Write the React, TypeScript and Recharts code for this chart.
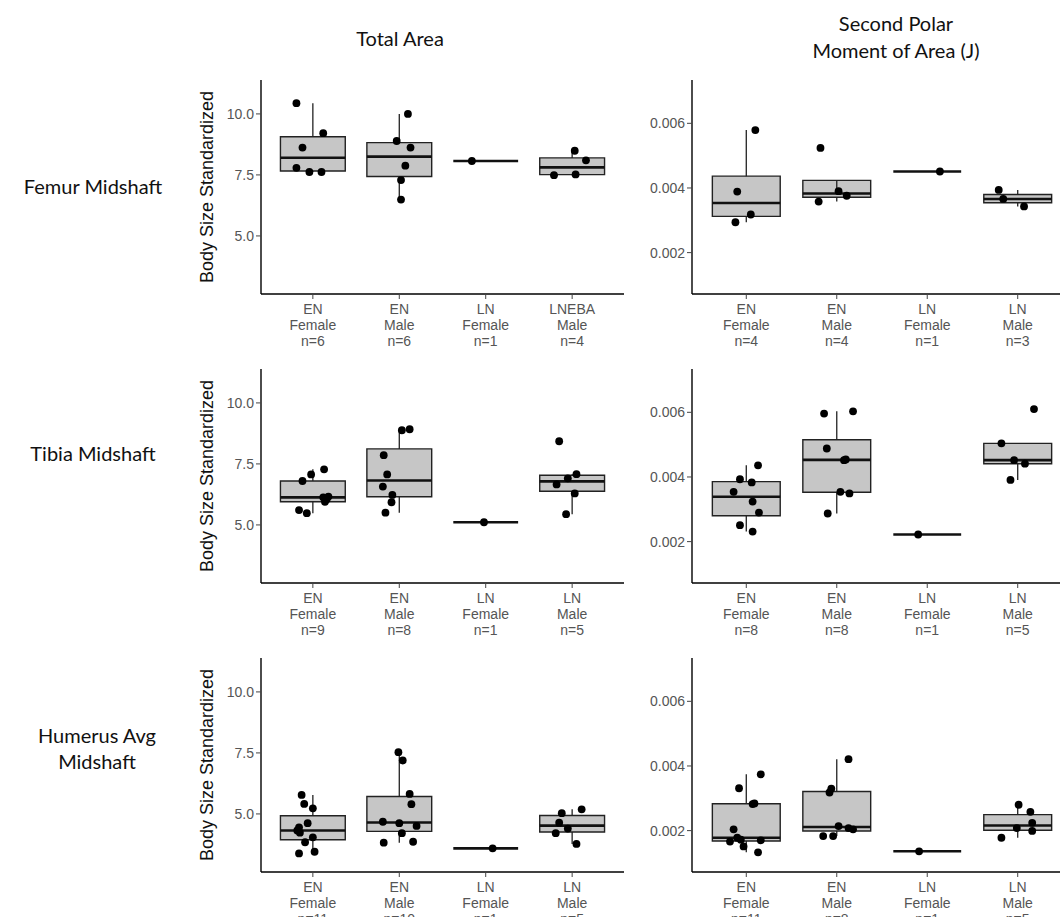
import { ComposedChart, Scatter, XAxis, YAxis, ReferenceArea, ReferenceLine } from 'recharts';

// Body-size standardized cross-sectional properties, one box per group.
// Values are listed per group: EN Female, EN Male, LN Female, LN (EBA) Male.
// Jitter arrays hold the horizontal spread of each point in category units.

const femurArea = [
  [10.44, 9.21, 8.62, 7.79, 7.62, 7.62],
  [10.0, 8.89, 8.62, 7.88, 7.29, 6.49],
  [8.07],
  [8.49, 8.1, 7.49, 7.52],
];
const femurAreaJitter = [
  [-0.19, 0.12, -0.12, -0.19, -0.04, 0.1],
  [0.1, -0.03, 0.13, 0.07, 0.02, 0.02],
  [-0.16],
  [0.03, 0.16, -0.21, 0.04],
];

const femurJ = [
  [0.00579, 0.00389, 0.00318, 0.00294],
  [0.00524, 0.0039, 0.00376, 0.00358],
  [0.00451],
  [0.00394, 0.00366, 0.00343],
];
const femurJJitter = [
  [0.1, -0.1, 0.05, -0.12],
  [-0.18, 0.02, 0.11, -0.2],
  [0.14],
  [-0.21, -0.16, 0.07],
];

const tibiaArea = [
  [6.8, 7.07, 7.28, 5.61, 5.48, 6.13, 6.05, 6.16, 5.95],
  [7.86, 7.07, 6.57, 6.23, 5.93, 5.5, 8.88, 8.92],
  [5.11],
  [8.43, 6.66, 6.91, 7.08, 6.29, 5.44],
];
const tibiaAreaJitter = [
  [-0.12, -0.02, 0.13, -0.16, -0.07, 0.12, 0.16, 0.18, 0.14],
  [-0.18, -0.14, -0.19, -0.08, -0.09, -0.16, 0.03, 0.12],
  [-0.02],
  [-0.15, -0.18, -0.05, 0.05, 0.03, -0.07],
];

const tibiaJ = [
  [0.00393, 0.00383, 0.00354, 0.00324, 0.00436, 0.0029, 0.00251, 0.00231],
  [0.00596, 0.00603, 0.00488, 0.00454, 0.00452, 0.00354, 0.00349, 0.00287],
  [0.00222],
  [0.0061, 0.00504, 0.00452, 0.00441, 0.00391],
];
const tibiaJJitter = [
  [-0.07, 0.06, -0.14, 0.07, 0.13, 0.14, -0.07, 0.07],
  [-0.14, 0.18, -0.11, 0.1, 0.08, 0.04, 0.14, -0.1],
  [-0.1],
  [0.18, -0.18, -0.04, 0.08, -0.08],
];

const humerusArea = [
  [5.78, 5.41, 5.23, 4.62, 4.45, 4.32, 4.23, 3.84, 4.04, 3.45, 3.38],
  [7.53, 7.19, 5.82, 5.4, 4.68, 4.62, 4.51, 4.21, 3.82, 3.86],
  [3.59],
  [5.03, 5.19, 4.64, 4.4, 4.21, 3.77],
];
const humerusAreaJitter = [
  [-0.13, -0.1, 0, -0.06, -0.16, -0.18, -0.15, -0.09, 0, 0.02, -0.16],
  [-0.01, 0.04, 0.12, 0.14, -0.19, 0, 0.2, 0.03, -0.18, 0.16],
  [0.08],
  [-0.12, 0.11, -0.15, -0.05, -0.19, 0.05],
];

const humerusJ = [
  [0.00374, 0.00331, 0.00284, 0.00282, 0.00204, 0.00178, 0.00172, 0.0017, 0.00166, 0.00151, 0.00133],
  [0.00421, 0.0033, 0.00318, 0.00214, 0.00204, 0.00208, 0.00183, 0.00183],
  [0.00136],
  [0.0028, 0.00258, 0.00224, 0.00208, 0.00199, 0.00178],
];
const humerusJJitter = [
  [0.16, -0.08, 0.09, 0.07, -0.14, -0.1, -0.06, 0.16, -0.18, -0.03, 0.13],
  [0.13, -0.06, -0.08, 0.02, 0.18, 0.13, -0.15, -0.04],
  [-0.09],
  [0.01, 0.14, 0.16, -0.01, 0.16, -0.18],
];

// x-axis labels (period / sex / sample size)
const femurAreaLabels = [['EN', 'Female', 'n=6'], ['EN', 'Male', 'n=6'], ['LN', 'Female', 'n=1'], ['LNEBA', 'Male', 'n=4']];
const femurJLabels = [['EN', 'Female', 'n=4'], ['EN', 'Male', 'n=4'], ['LN', 'Female', 'n=1'], ['LN', 'Male', 'n=3']];
const tibiaAreaLabels = [['EN', 'Female', 'n=9'], ['EN', 'Male', 'n=8'], ['LN', 'Female', 'n=1'], ['LN', 'Male', 'n=5']];
const tibiaJLabels = [['EN', 'Female', 'n=8'], ['EN', 'Male', 'n=8'], ['LN', 'Female', 'n=1'], ['LN', 'Male', 'n=5']];
const humerusAreaLabels = [['EN', 'Female', 'n=11'], ['EN', 'Male', 'n=10'], ['LN', 'Female', 'n=1'], ['LN', 'Male', 'n=5']];
const humerusJLabels = [['EN', 'Female', 'n=11'], ['EN', 'Male', 'n=8'], ['LN', 'Female', 'n=1'], ['LN', 'Male', 'n=5']];

const areaTicks = [5, 7.5, 10];
const jTicks = [0.002, 0.004, 0.006];
const areaDomain = [2.62, 11.39];
const jDomain = [0.00072, 0.00734];

const columnTitles = ['Total Area', 'Second Polar', 'Moment of Area (J)'];
const rowTitles = ['Femur Midshaft', 'Tibia Midshaft', 'Humerus Avg', 'Midshaft'];

const TICK_FONT = '"Liberation Sans", Arial, sans-serif';
const TITLE_FONT = 'Lato, "Open Sans", sans-serif';
const BOX_HALF = 0.375;

// type-7 quantile, same as R's default
const quantile = (sorted: number[], p: number) => {
  const h = (sorted.length - 1) * p;
  const lo = Math.floor(h);
  const next = sorted[Math.min(lo + 1, sorted.length - 1)];
  return sorted[lo] + (h - lo) * (next - sorted[lo]);
};

const boxStats = (values: number[]) => {
  const s = [...values].sort((a, b) => a - b);
  const q1 = quantile(s, 0.25);
  const med = quantile(s, 0.5);
  const q3 = quantile(s, 0.75);
  const iqr = q3 - q1;
  const inside = s.filter((v) => v >= q1 - 1.5 * iqr && v <= q3 + 1.5 * iqr);
  return { q1, med, q3, lo: inside[0], hi: inside[inside.length - 1] };
};

const CategoryTick = (props: any) => {
  const { x, y, payload, labels } = props;
  const lines: string[] = labels[Math.round(payload.value) - 1] || [];
  return (
    <text x={x} y={y + 13} textAnchor="middle" fill="#555" fontSize={14} fontFamily={TICK_FONT}>
      {lines.map((line, i) => (
        <tspan key={i} x={x} dy={i === 0 ? 0 : 16}>
          {line}
        </tspan>
      ))}
    </text>
  );
};

const Dot = (props: any) => <circle cx={props.cx} cy={props.cy} r={3.9} fill="#000" />;

interface PanelProps {
  left: number;
  top: number;
  width: number;
  axisWidth: number;
  values: number[][];
  jitter: number[][];
  labels: string[][];
  domain: number[];
  ticks: number[];
  digits: number;
  yTitle?: string;
}

const Panel = ({ left, top, width, axisWidth, values, jitter, labels, domain, ticks, digits, yTitle }: PanelProps) => {
  const stats = values.map(boxStats);
  const points = values.flatMap((group, g) =>
    group.map((v, k) => ({ x: g + 1 + jitter[g][k], y: v })),
  );

  return (
    <div style={{ position: 'absolute', left, top }}>
      <ComposedChart width={width} height={284} margin={{ top: 10, right: 6, bottom: 0, left: 0 }}>
        <XAxis
          type="number"
          dataKey="x"
          domain={[0.4, 4.6]}
          ticks={[1, 2, 3, 4]}
          allowDataOverflow
          interval={0}
          height={60}
          tickSize={5}
          axisLine={{ stroke: '#000', strokeWidth: 1.4 }}
          tickLine={{ stroke: '#444' }}
          tick={(p: any) => <CategoryTick {...p} labels={labels} />}
        />
        <YAxis
          type="number"
          dataKey="y"
          domain={domain}
          ticks={ticks}
          allowDataOverflow
          width={axisWidth}
          tickSize={5}
          axisLine={{ stroke: '#000', strokeWidth: 1.4 }}
          tickLine={{ stroke: '#444' }}
          tick={{ fill: '#555', fontSize: 14, fontFamily: TICK_FONT }}
          tickFormatter={(v: number) => v.toFixed(digits)}
          label={
            yTitle
              ? {
                  content: (lp: any) => {
                    const vb = lp.viewBox || { x: 0, y: 10, width: axisWidth, height: 214 };
                    const cx = vb.x + 17;
                    const cy = vb.y + vb.height / 2;
                    return (
                      <text
                        x={cx}
                        y={cy}
                        transform={`rotate(-90 ${cx} ${cy})`}
                        textAnchor="middle"
                        dominantBaseline="central"
                        fontSize={18}
                        fontFamily={TICK_FONT}
                        fill="#111"
                      >
                        {yTitle}
                      </text>
                    );
                  },
                }
              : undefined
          }
        />
        {stats.map((s, g) => (
          <ReferenceLine
            key={`wl${g}`}
            segment={[{ x: g + 1, y: s.lo }, { x: g + 1, y: s.q1 }]}
            stroke="#222"
            strokeWidth={1.3}
          />
        ))}
        {stats.map((s, g) => (
          <ReferenceLine
            key={`wh${g}`}
            segment={[{ x: g + 1, y: s.q3 }, { x: g + 1, y: s.hi }]}
            stroke="#222"
            strokeWidth={1.3}
          />
        ))}
        {stats.map((s, g) => (
          <ReferenceArea
            key={`b${g}`}
            x1={g + 1 - BOX_HALF}
            x2={g + 1 + BOX_HALF}
            y1={s.q1}
            y2={s.q3}
            fill="#c6c6c6"
            fillOpacity={1}
            stroke="#222"
            strokeWidth={1.4}
          />
        ))}
        {stats.map((s, g) => (
          <ReferenceLine
            key={`m${g}`}
            segment={[{ x: g + 1 - BOX_HALF, y: s.med }, { x: g + 1 + BOX_HALF, y: s.med }]}
            stroke="#111"
            strokeWidth={2.6}
          />
        ))}
        <Scatter data={points} dataKey="y" isAnimationActive={false} shape={Dot} />
      </ComposedChart>
    </div>
  );
};

const rows = [
  { area: femurArea, areaJit: femurAreaJitter, areaLab: femurAreaLabels, j: femurJ, jJit: femurJJitter, jLab: femurJLabels },
  { area: tibiaArea, areaJit: tibiaAreaJitter, areaLab: tibiaAreaLabels, j: tibiaJ, jJit: tibiaJJitter, jLab: tibiaJLabels },
  { area: humerusArea, areaJit: humerusAreaJitter, areaLab: humerusAreaLabels, j: humerusJ, jJit: humerusJJitter, jLab: humerusJLabels },
];

const titleStyle = (x: number, y: number): React.CSSProperties => ({
  position: 'absolute',
  left: x - 150,
  top: y - 14,
  width: 300,
  lineHeight: '28px',
  textAlign: 'center',
  fontFamily: TITLE_FONT,
  fontSize: 20,
  color: '#111',
  whiteSpace: 'nowrap',
});

export default function App() {
  return (
    <div
      style={{
        position: 'fixed',
        left: 0,
        top: 0,
        width: 1060,
        height: 917,
        overflow: 'hidden',
        background: '#fff',
      }}
    >
      <div style={titleStyle(400, 38)}>{columnTitles[0]}</div>
      <div style={titleStyle(896, 23)}>{columnTitles[1]}</div>
      <div style={titleStyle(896, 50)}>{columnTitles[2]}</div>

      <div style={titleStyle(93, 186)}>{rowTitles[0]}</div>
      <div style={titleStyle(93, 453)}>{rowTitles[1]}</div>
      <div style={titleStyle(97, 735)}>{rowTitles[2]}</div>
      <div style={titleStyle(97, 761)}>{rowTitles[3]}</div>

      {rows.map((r, i) => (
        <div key={i}>
          <Panel
            left={190}
            top={70 + 289 * i}
            width={440}
            axisWidth={71}
            values={r.area}
            jitter={r.areaJit}
            labels={r.areaLab}
            domain={areaDomain}
            ticks={areaTicks}
            digits={1}
            yTitle="Body Size Standardized"
          />
          <Panel
            left={600}
            top={70 + 289 * i}
            width={478}
            axisWidth={92}
            values={r.j}
            jitter={r.jJit}
            labels={r.jLab}
            domain={jDomain}
            ticks={jTicks}
            digits={3}
          />
        </div>
      ))}
    </div>
  );
}
